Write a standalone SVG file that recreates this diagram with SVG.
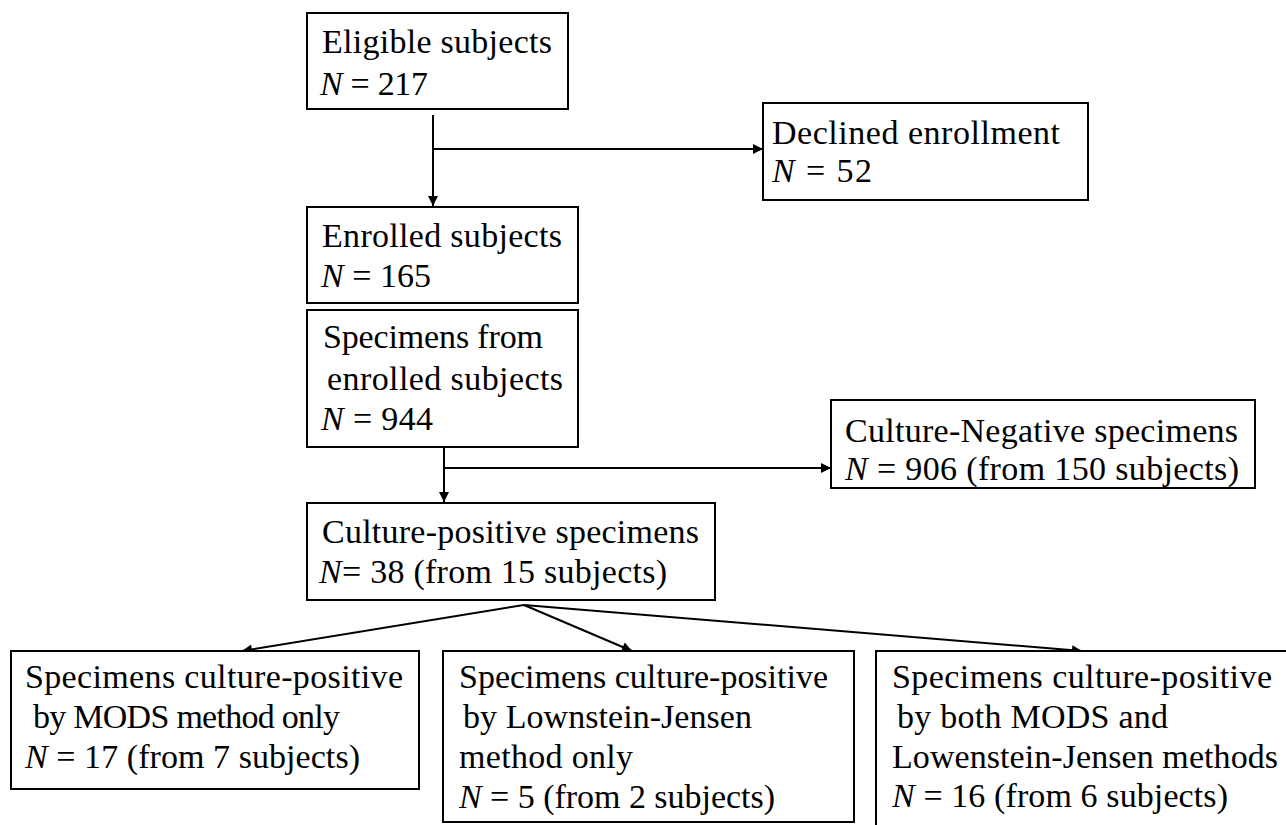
<svg xmlns="http://www.w3.org/2000/svg" width="1286" height="825" viewBox="0 0 1286 825">
<style>
.box{fill:#fff;stroke:#000;stroke-width:2}
.t{font-family:"Liberation Serif","Times New Roman",serif;font-size:34px;fill:#000}
.i{font-style:italic}
.c{fill:none;stroke:#000;stroke-width:2}
</style>
<defs>
<marker id="ah" viewBox="0 0 10 10" refX="10" refY="5" markerWidth="12" markerHeight="10" markerUnits="userSpaceOnUse" orient="auto">
<path d="M0,0 L10,5 L0,10 z" fill="#000"/>
</marker>
</defs>
<rect width="1286" height="825" fill="#fff"/>
<g id="connectors">
<line class="c" x1="433" y1="115" x2="433" y2="206" marker-end="url(#ah)"/>
<line class="c" x1="433" y1="149" x2="763" y2="149" marker-end="url(#ah)"/>
<line class="c" x1="444" y1="447" x2="444" y2="502" marker-end="url(#ah)"/>
<line class="c" x1="444" y1="468" x2="831" y2="468" marker-end="url(#ah)"/>
<line class="c" x1="524" y1="605" x2="242" y2="651" marker-end="url(#ah)"/>
<line class="c" x1="524" y1="605" x2="632" y2="651" marker-end="url(#ah)"/>
<line class="c" x1="524" y1="605" x2="1082" y2="651" marker-end="url(#ah)"/>
</g>
<g id="eligible">
<rect class="box" x="307" y="13" width="261" height="96"/>
<text class="t" x="322" y="53" textLength="230" lengthAdjust="spacing">Eligible subjects</text>
<text class="t" x="320" y="95" textLength="108" lengthAdjust="spacing"><tspan class="i">N</tspan> = 217</text>
</g>
<g id="declined">
<rect class="box" x="763" y="103" width="325" height="97"/>
<text class="t" x="772" y="144" textLength="288" lengthAdjust="spacing">Declined enrollment</text>
<text class="t" x="772" y="182" textLength="100" lengthAdjust="spacing"><tspan class="i">N</tspan> = 52</text>
</g>
<g id="enrolled">
<rect class="box" x="307" y="207" width="271" height="96"/>
<text class="t" x="322" y="247" textLength="240" lengthAdjust="spacing">Enrolled subjects</text>
<text class="t" x="321" y="287" textLength="110" lengthAdjust="spacing"><tspan class="i">N</tspan> = 165</text>
</g>
<g id="specimens">
<rect class="box" x="307" y="310" width="271" height="137"/>
<text class="t" x="323" y="348" textLength="220" lengthAdjust="spacing">Specimens from</text>
<text class="t" x="327" y="390" textLength="236" lengthAdjust="spacing">enrolled subjects</text>
<text class="t" x="321" y="430" textLength="112" lengthAdjust="spacing"><tspan class="i">N</tspan> = 944</text>
</g>
<g id="negative">
<rect class="box" x="831" y="400" width="424" height="88"/>
<text class="t" x="845" y="442" textLength="393" lengthAdjust="spacing">Culture-Negative specimens</text>
<text class="t" x="845" y="480" textLength="394" lengthAdjust="spacing"><tspan class="i">N</tspan> = 906 (from 150 subjects)</text>
</g>
<g id="positive">
<rect class="box" x="307" y="503" width="408" height="97"/>
<text class="t" x="322" y="543" textLength="377" lengthAdjust="spacing">Culture-positive specimens</text>
<text class="t" x="319" y="583" textLength="348" lengthAdjust="spacing"><tspan class="i">N</tspan>= 38 (from 15 subjects)</text>
</g>
<g id="mods">
<rect class="box" x="11" y="651" width="408" height="138"/>
<text class="t" x="25" y="688" textLength="378" lengthAdjust="spacing">Specimens culture-positive</text>
<text class="t" x="33" y="728" textLength="307" lengthAdjust="spacing">by MODS method only</text>
<text class="t" x="25" y="768" textLength="335" lengthAdjust="spacing"><tspan class="i">N</tspan> = 17 (from 7 subjects)</text>
</g>
<g id="lj">
<rect class="box" x="443" y="651" width="411" height="171"/>
<text class="t" x="459" y="688" textLength="369" lengthAdjust="spacing">Specimens culture-positive</text>
<text class="t" x="463" y="728" textLength="289" lengthAdjust="spacing">by Lownstein-Jensen</text>
<text class="t" x="459" y="768" textLength="174" lengthAdjust="spacing">method only</text>
<text class="t" x="459" y="808" textLength="316" lengthAdjust="spacing"><tspan class="i">N</tspan> = 5 (from 2 subjects)</text>
</g>
<g id="both">
<rect class="box" x="876" y="651" width="430" height="200"/>
<text class="t" x="892" y="688" textLength="380" lengthAdjust="spacing">Specimens culture-positive</text>
<text class="t" x="897" y="728" textLength="271" lengthAdjust="spacing">by both MODS and</text>
<text class="t" x="892" y="768" textLength="386" lengthAdjust="spacing">Lowenstein-Jensen methods</text>
<text class="t" x="892" y="807" textLength="336" lengthAdjust="spacing"><tspan class="i">N</tspan> = 16 (from 6 subjects)</text>
</g>
</svg>
